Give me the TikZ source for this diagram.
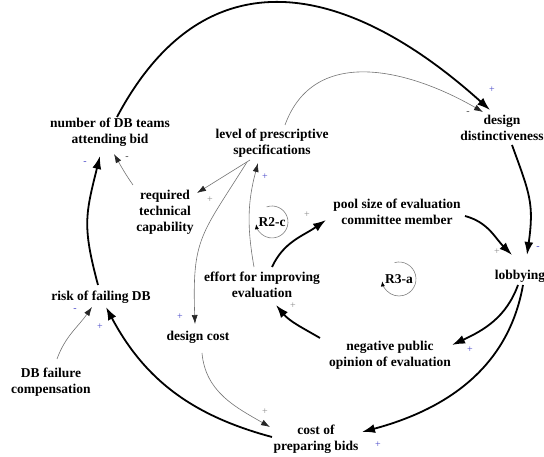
\documentclass[tikz,border=0pt]{standalone}
\usepackage{fontspec}
\setmainfont{Liberation Serif}
\usepackage{xcolor}
\usetikzlibrary{arrows.meta,calc}
\definecolor{signblue}{RGB}{70,70,200}

\begin{document}
\begin{tikzpicture}[x=1pt, y=1pt,
		every node/.style={font=\fontsize{13.5}{16}\selectfont\bfseries, align=center, inner sep=2pt},
		weak/.style={->, >={Latex[length=9pt,width=6pt,color=black!85]}, color=black!55, line width=0.6pt},
		strong/.style={->, >={Latex[length=13pt,width=9pt]}, color=black, line width=1.8pt},
		loopmark/.style={->, >={Latex[length=5pt,width=4pt,color=black]}, draw=black!50, line width=0.6pt},
		sign/.style={font=\fontsize{10}{10}\selectfont, inner sep=0pt},
		plus/.style={sign, text=signblue},
		grayplus/.style={sign, text=black!45},
		minus/.style={sign, text=signblue},
		darkminus/.style={sign, text=black!75}]
		
		\useasboundingbox (0,0) rectangle (544,457);
		
		\node (teams) at (110,325) {number of DB teams\\attending bid};
		\node (spec) at (272,314) {level of prescriptive\\specifications};
		\node (distinct) at (502,329) {design\\distinctiveness};
		\node (captech) at (165,245) {required\\technical\\capability};
		\node (pool) at (397,245) {pool size of evaluation\\committee member};
		\node (lobby) at (520,181) {lobbying};
		\node (effort) at (262,172) {effort for improving\\evaluation};
		\node (risk) at (101,160) {risk of failing DB};
		\node (dcost) at (198,120) {design cost};
		\node (negop) at (390,102) {negative public\\opinion of evaluation};
		\node (comp) at (51,75) {DB failure\\compensation};
		\node (prep) at (316,18) {cost of\\preparing bids};
		
		% loop markers
		\node (r2) at (272,235) {R2-c};
		\node (r3) at (399,178) {R3-a};
		\draw[loopmark] ([shift={(110:16pt)}]r2.center) arc[start angle=110, end angle=-172, radius=16pt];
		\draw[loopmark] ([shift={(105:17pt)}]r3.center) arc[start angle=105, end angle=-172, radius=17pt];
		
		\path[strong]
		([shift={(7,15)}]teams.center) edge[out=62, in=138, looseness=1.3] ([shift={(-12,18)}]distinct.center)
		([shift={(10,-17)}]distinct.center) edge[out=-70, in=82, looseness=1.2] ([shift={(7,21)}]lobby.center)
		([shift={(68,-4)}]pool.center) edge[out=-15, in=135] ([shift={(-8,21)}]lobby.center)
		([shift={(-2,-9)}]lobby.center) edge[out=-110, in=25] ([shift={(62,10)}]negop.center)
		([shift={(3,-9)}]lobby.center) edge[out=-100, in=15] ([shift={(46,7)}]prep.center)
		([shift={(-70,17)}]negop.center) edge[out=150, in=-50] ([shift={(14,-20)}]effort.center)
		([shift={(10,18)}]effort.center) edge[out=65, in=-145] ([shift={(-71,-8)}]pool.center)
		([shift={(-3,12)}]risk.center) edge[out=105, in=-104, looseness=1.2] ([shift={(-10,-24)}]teams.center)
		([shift={(-44,2)}]prep.center) edge[out=165, in=-62] ([shift={(5,-10)}]risk.center)
		;
		
		\path[weak]
		([shift={(13,18)}]spec.center) edge[out=70, in=150, looseness=1.1] ([shift={(-19,16)}]distinct.center)
		([shift={(-8,18)}]effort.center) edge[out=100, in=-105] ([shift={(-14,-20)}]spec.center)
		([shift={(-22,-17)}]spec.center) edge ([shift={(32,19)}]captech.center)
		([shift={(-25,-19)}]spec.center) edge[out=-122, in=92, looseness=1.3] ([shift={(-3,13)}]dcost.center)
		([shift={(-32,27)}]captech.center) edge[out=125, in=-60] ([shift={(4,-22)}]teams.center)
		([shift={(6,23)}]comp.center) edge[out=70, in=-125] ([shift={(-9,-10)}]risk.center)
		([shift={(4,-16)}]dcost.center) edge[out=-85, in=150] ([shift={(-46,12)}]prep.center)
		;
		
		% polarities
		\node[plus] (s1) at (492,367) {+};
		\node[darkminus] (s2) at (468,344) {-};
		\node[minus] (s3) at (538,209) {-};
		\node[grayplus] (s4) at (497,205) {+};
		\node[plus] (s5) at (470,107) {+};
		\node[plus] (s6) at (378,12) {+};
		\node[grayplus] (s7) at (293,151) {+};
		\node[grayplus] (s8) at (307,242) {+};
		\node[plus] (s9) at (265,280) {+};
		\node[grayplus] (s10) at (210,257) {+};
		\node[plus] (s11) at (180,140) {+};
		\node[darkminus] (s12) at (127,299) {-};
		\node[minus] (s13) at (85,294) {-};
		\node[minus] (s14) at (75,147) {-};
		\node[plus] (s15) at (100,130) {+};
		\node[grayplus] (s16) at (265,45) {+};
		
\end{tikzpicture}
\end{document}
